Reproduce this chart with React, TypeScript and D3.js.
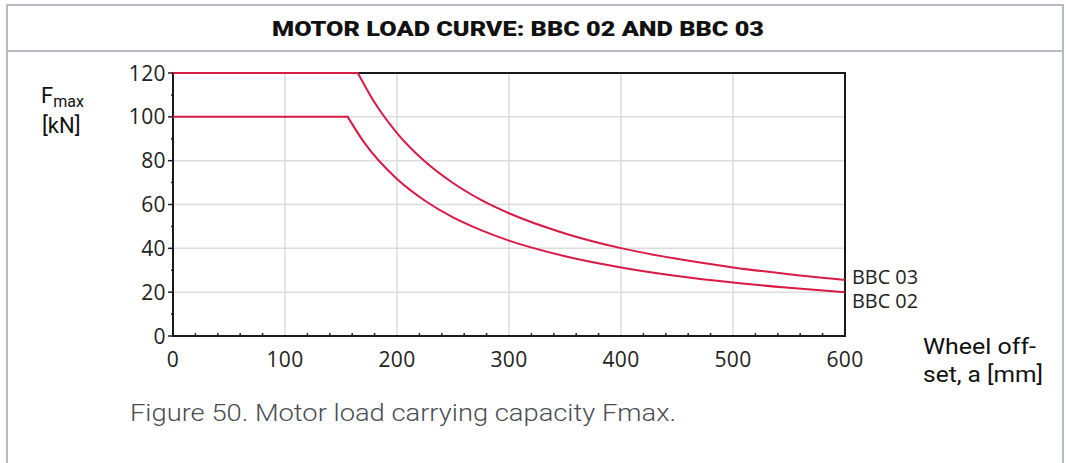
import React from "react";
import * as d3 from "d3";

const bbc03A = [0, 165, 180, 200, 225, 250, 275, 300, 350, 400, 450, 500, 550, 600];
const bbc03F = [120, 120, 106.5, 92.6, 79.6, 69.8, 62.1, 56.0, 46.8, 40.1, 35.2, 31.3, 28.2, 25.6];
const bbc02A = [0, 156, 170, 200, 225, 250, 275, 300, 350, 400, 450, 500, 550, 600];
const bbc02F = [100, 100, 88.8, 71.6, 61.7, 54.1, 48.3, 43.5, 36.4, 31.3, 27.4, 24.4, 22.0, 20.0];
const xTicks = [0, 100, 200, 300, 400, 500, 600];
const yTicks = [0, 20, 40, 60, 80, 100, 120];
const seriesNames = ["BBC 03", "BBC 02"];
const title = "MOTOR LOAD CURVE: BBC 02 AND BBC 03";
const caption = "Figure 50. Motor load carrying capacity Fmax.";

export default function App() {
  const W = 1066, H = 463;
  const x = d3.scaleLinear().domain([0, 600]).range([173, 845]);
  const y = d3.scaleLinear().domain([0, 120]).range([336, 73]);
  const red = "#d81a44";
  const border = "#b4b9c3";
  const tickFont = "'Open Sans', sans-serif";

  const mk = (a: number[], f: number[]) => {
    const pts = a.map((v, i) => [v, f[i]] as [number, number]);
    const flat = pts.slice(0, 2);
    const curve = pts.slice(1);
    const lineFlat = d3.line<[number, number]>().x(d => x(d[0])).y(d => y(d[1]));
    const lineCurve = d3.line<[number, number]>().x(d => x(d[0])).y(d => y(d[1])).curve(d3.curveMonotoneX);
    return (lineFlat(flat) || "") + (lineCurve(curve) || "").replace(/^M/, "L");
  };

  const minorX = d3.range(0, 601, 20);
  const minorY = d3.range(0, 121, 10);
  const series = [
    { name: seriesNames[0], a: bbc03A, f: bbc03F, dy: -3 },
    { name: seriesNames[1], a: bbc02A, f: bbc02F, dy: 9 },
  ];

  return (
    <svg width={W} height={H} style={{ position: "absolute", left: 0, top: 0, background: "#fff" }}>
      {/* frame */}
      <line x1={7} x2={7} y1={5} y2={H} stroke={border} strokeWidth={2} />
      <line x1={1063} x2={1063} y1={5} y2={H} stroke={border} strokeWidth={2} />
      <line x1={6} x2={1064} y1={5} y2={5} stroke={border} strokeWidth={2} />
      <line x1={6} x2={1064} y1={51} y2={51} stroke={border} strokeWidth={2} />
      <text x={518} y={36} textAnchor="middle" fontFamily="Roboto, sans-serif" fontWeight={900} fontSize={21}
        textLength={492} lengthAdjust="spacingAndGlyphs" fill="#111">{title}</text>

      {/* grid */}
      {xTicks.slice(1, -1).map(t => (
        <line key={"gx" + t} x1={x(t)} x2={x(t)} y1={y(120)} y2={y(0)} stroke="#dcdcdc" strokeWidth={1.5} />
      ))}
      {yTicks.slice(1, -1).map(t => (
        <line key={"gy" + t} x1={x(0)} x2={x(600)} y1={y(t)} y2={y(t)} stroke="#dcdcdc" strokeWidth={1.5} />
      ))}

      {/* ticks */}
      {minorX.map(t => (
        <line key={"mx" + t} x1={x(t)} x2={x(t)} y1={y(0)} y2={y(0) - (t % 100 === 0 ? 0 : 3)} stroke="#222" strokeWidth={1.5} />
      ))}
      {minorY.map(t => (
        <line key={"my" + t} x1={x(0) - (t % 20 === 0 ? 5 : 2)} x2={x(0)} y1={y(t)} y2={y(t)} stroke="#222" strokeWidth={1.5} />
      ))}

      {/* plot frame */}
      <rect x={x(0)} y={y(120)} width={x(600) - x(0)} height={y(0) - y(120)} fill="none" stroke="#1a1a1a" strokeWidth={2} />

      {/* curves */}
      {series.map(s => (
        <path key={s.name} d={mk(s.a, s.f)} fill="none" stroke={red} strokeWidth={2} />
      ))}
      {series.map(s => (
        <text key={"l" + s.name} x={852} y={y(s.f[s.f.length - 1]) + s.dy + 7} fontFamily={tickFont} fontSize={20}
          fill="#222" textLength={66} lengthAdjust="spacingAndGlyphs">{s.name}</text>
      ))}

      {/* tick labels */}
      {yTicks.map(t => (
        <text key={"yl" + t} x={166} y={y(t) + 7.5} textAnchor="end" fontFamily={tickFont} fontSize={21}
          letterSpacing={0.4} fill="#222">{t}</text>
      ))}
      {xTicks.map(t => (
        <text key={"xl" + t} x={x(t)} y={367} textAnchor="middle" fontFamily={tickFont} fontSize={21}
          letterSpacing={0.4} fill="#222">{t}</text>
      ))}

      {/* axis titles */}
      <text x={41} y={103} fontFamily="Roboto, sans-serif" fontSize={22} fill="#111">
        F<tspan fontSize={16} dy={4}>max</tspan>
      </text>
      <text x={42} y={133} fontFamily="Roboto, sans-serif" fontSize={22} fill="#111">[kN]</text>
      <text x={923} y={354} fontFamily="Roboto, sans-serif" fontSize={22} fill="#111" textLength={113}
        lengthAdjust="spacingAndGlyphs">Wheel off-</text>
      <text x={923} y={382} fontFamily="Roboto, sans-serif" fontSize={22} fill="#111" textLength={120}
        lengthAdjust="spacingAndGlyphs">set, a [mm]</text>

      <text x={130} y={421} fontFamily="Roboto, sans-serif" fontWeight={300} fontSize={23} fill="#4a4d52"
        textLength={546} lengthAdjust="spacingAndGlyphs">{caption}</text>
    </svg>
  );
}
